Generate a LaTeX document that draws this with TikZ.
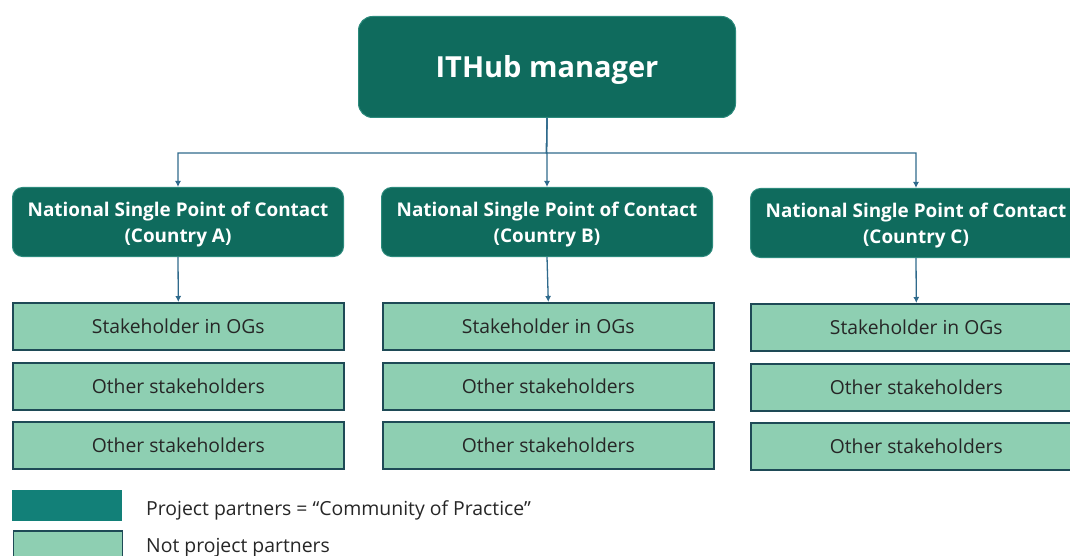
\documentclass[tikz,border=0pt]{standalone}
\usepackage{fontspec}
\setmainfont{Open Sans}
\usetikzlibrary{arrows.meta}
\definecolor{dark}{HTML}{0F6B5D}
\definecolor{darkedge}{HTML}{2C8A7C}
\definecolor{light}{HTML}{8ECFB2}
\definecolor{lightedge}{HTML}{1E4A56}
\definecolor{conn}{HTML}{2F6A8C}
\definecolor{legdark}{HTML}{128078}
\newcommand{\twoline}[2]{\raisebox{-2pt}[\height][\depth]{\begin{tabular}{@{}c@{}}#1\\#2\end{tabular}}}
\tikzset{
  x=1pt,y=-1pt,
  topbox/.style={fill=dark,draw=darkedge,line width=1pt,rounded corners=14pt,text=white,font=\fontsize{29}{32}\selectfont\bfseries,minimum width=377pt,minimum height=101pt,anchor=north west,inner sep=0pt},
  npbox/.style={fill=dark,draw=darkedge,line width=1pt,rounded corners=10pt,text=white,font=\fontsize{18.9}{26}\selectfont\bfseries,minimum width=331pt,minimum height=69pt,anchor=north west,inner sep=0pt},
  shbox/.style={fill=light,draw=lightedge,line width=1.6pt,font=\fontsize{19.3}{22}\selectfont,minimum width=331pt,minimum height=47pt,anchor=north west,inner sep=0pt,text=black!85},
  link/.style={draw=conn,line width=1.3pt,-{Latex[length=6pt,width=6pt]}},
  legtext/.style={anchor=west,font=\fontsize{19.4}{22}\selectfont,text=black!85,inner sep=0pt}
}
\begin{document}
\begin{tikzpicture}
\useasboundingbox (0,0) rectangle (1070,556);
\node[topbox] (top) at (358,16) {\raisebox{-3pt}[\height][\depth]{ITHub manager}};
\node[npbox] (nA) at (12,187) {\twoline{National Single Point of Contact}{(Country A)}};
\node[npbox] (nB) at (381,187) {\twoline{National Single Point of Contact}{(Country B)}};
\node[npbox] (nC) at (750,188) {\twoline{National Single Point of Contact}{(Country C)}};
\foreach \c/\x/\dy in {A/12/0,B/382/0,C/750/1}{
  \node[shbox] (s\c1) at (\x,302+\dy) {Stakeholder in OGs};
  \node[shbox] (s\c2) at (\x,362+\dy) {Other stakeholders};
  \node[shbox] (s\c3) at (\x,421+\dy) {Other stakeholders};
}
\coordinate (bus) at (546.5,153);
\draw[link] (top.south) -- (bus) -| (nA.north);
\draw[link] (top.south) -- (bus) -| (nB.north);
\draw[link] (top.south) -- (bus) -| (nC.north);
\draw[link] (nA.south) -- (sA1.north);
\draw[link] (nB.south) -- (sB1.north);
\draw[link] (nC.south) -- (sC1.north);
\node[fill=legdark,minimum width=110pt,minimum height=31pt,anchor=north west,inner sep=0pt] (legD) at (12,490) {};
\node[fill=light,draw=lightedge,line width=1.6pt,minimum width=109pt,minimum height=31pt,anchor=north west,inner sep=0pt] (legL) at (12.5,530) {};
\node[legtext] (tD) at (146,510) {Project partners = “Community of Practice”};
\node[legtext] (tL) at (146,548) {Not project partners};
\end{tikzpicture}
\end{document}
